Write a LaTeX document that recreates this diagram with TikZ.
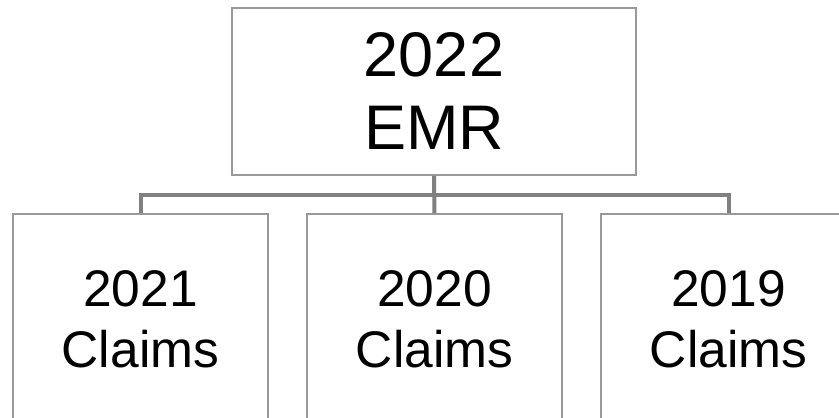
\documentclass[tikz,border=0pt]{standalone}
\usepackage{fontspec}
\setmainfont{Liberation Sans}
\definecolor{boxgray}{HTML}{999999}
\definecolor{linegray}{HTML}{808080}
\begin{document}
\begin{tikzpicture}[x=1pt,y=-1pt,
  box/.style={draw=boxgray, line width=1.8pt, fill=white, rectangle, inner sep=0pt, align=center},
  topbox/.style={box, minimum width=404pt, minimum height=167pt, font=\fontsize{63}{73}\selectfont},
  botbox/.style={box, minimum width=255pt, minimum height=210pt, font=\fontsize{51.5}{61}\selectfont},
  conn/.style={draw=linegray, line width=4pt, line join=miter}]
\useasboundingbox (0,0) rectangle (839,418);
\clip (0,0) rectangle (839,418);
\node[topbox] (emr) at (434,91.5) {2022\\EMR};
\node[botbox] (c21) at (140.5,319) {2021\\Claims};
\node[botbox] (c20) at (434.5,319) {2020\\Claims};
\node[botbox] (c19) at (728.5,319) {2019\\Claims};
\coordinate (bar) at (434.5,194.5);
\draw[conn] (emr.south) -- (c20.north);
\draw[conn] (c21.north) |- (bar) -| (c19.north);
\end{tikzpicture}
\end{document}
